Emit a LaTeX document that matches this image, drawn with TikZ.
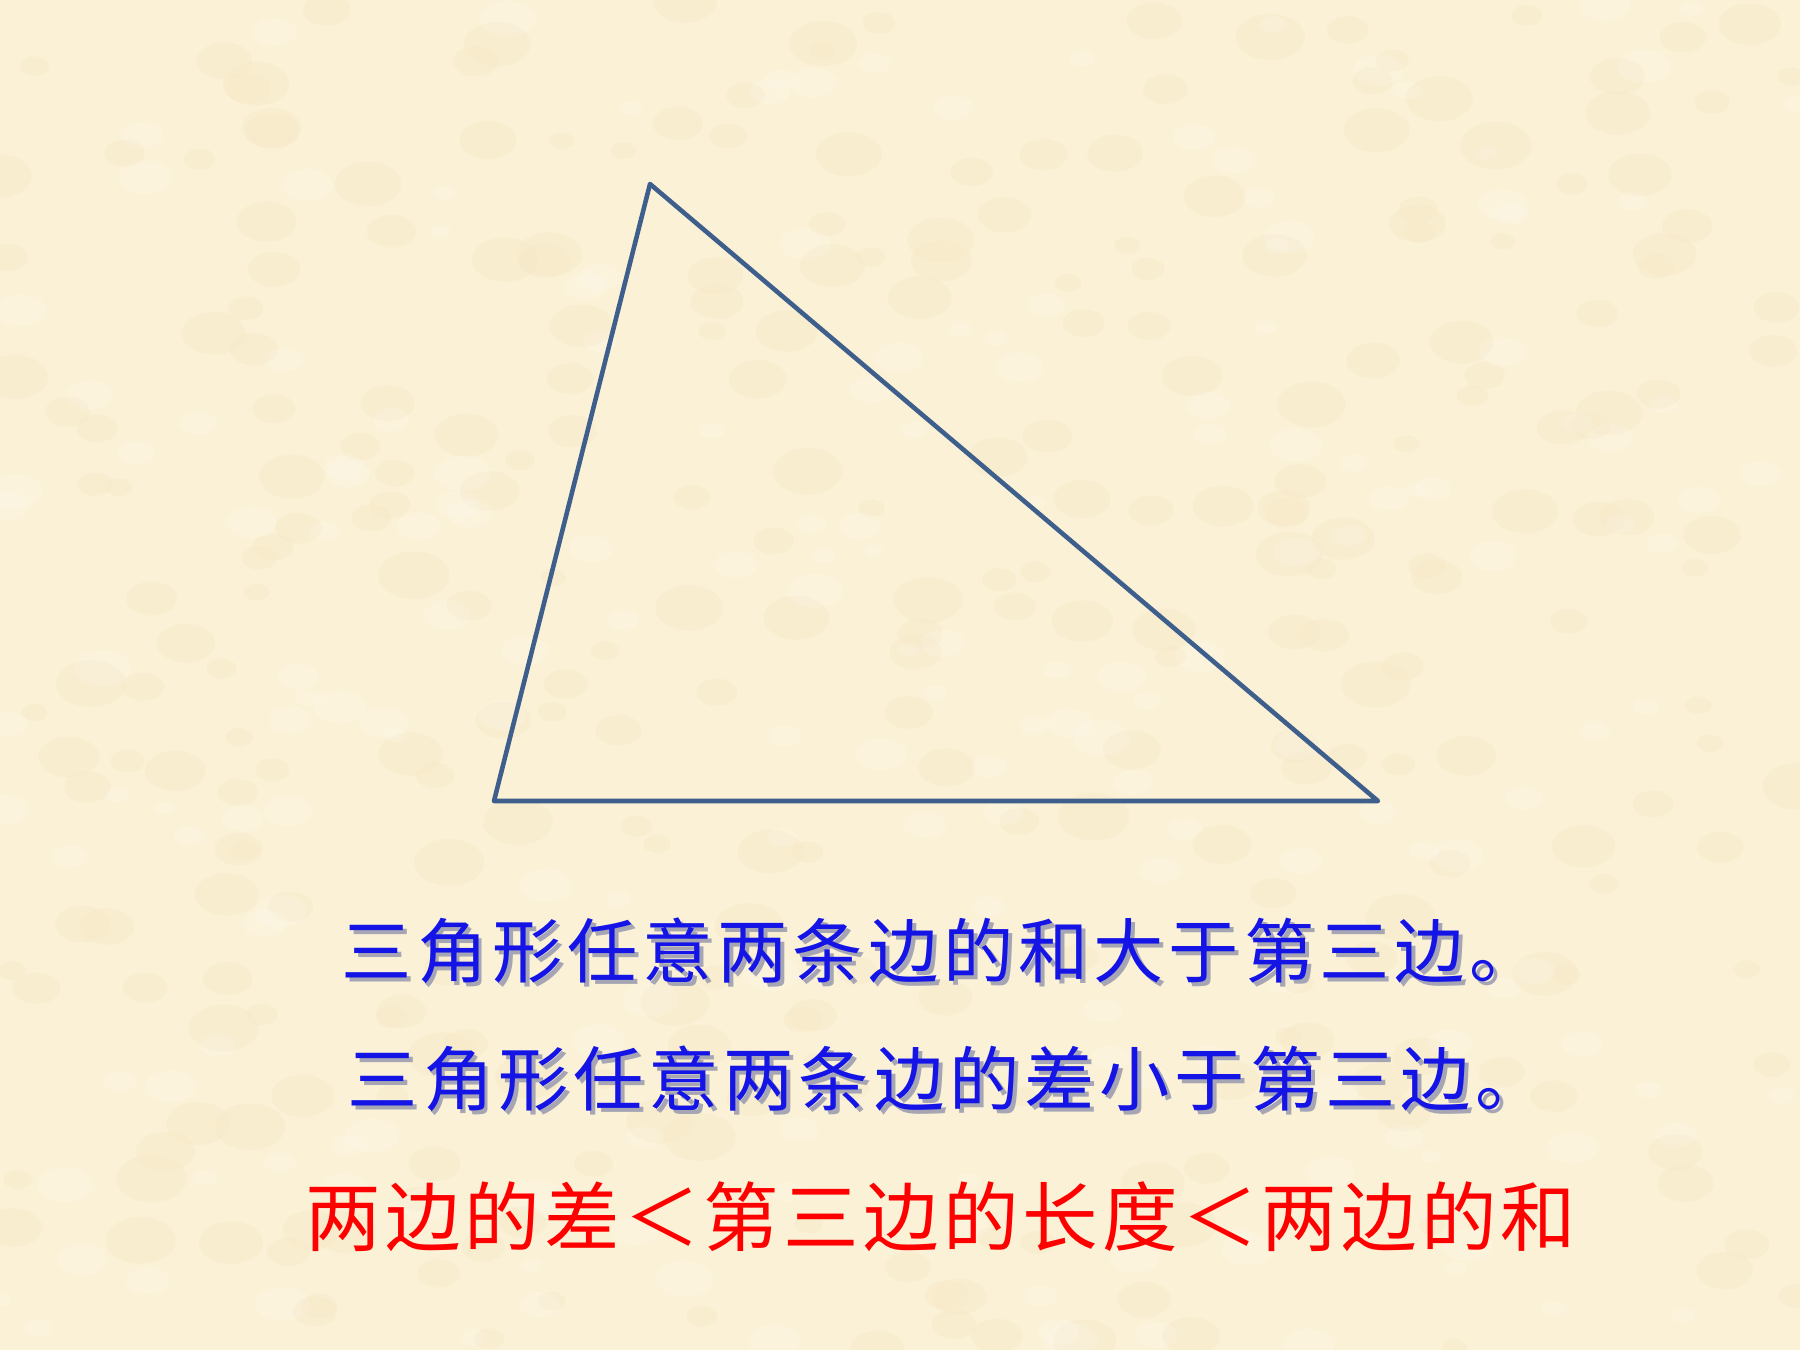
\documentclass[tikz,border=0pt]{standalone}
\usepackage{fontspec}
\newfontfamily\cjkblue[LetterSpace=7]{Noto Sans CJK SC}
\newfontfamily\cjkred[LetterSpace=5.5]{Noto Sans CJK SC}
\definecolor{bgcream}{RGB}{251,241,214}
\definecolor{bgspot}{RGB}{245,231,196}
\definecolor{triline}{RGB}{62,95,140}
\definecolor{txtblue}{RGB}{20,20,230}
\definecolor{txtred}{RGB}{255,0,0}
\definecolor{shadowgray}{RGB}{165,165,180}
\newcommand{\shadowed}[1]{\rlap{\hspace{2.2pt}\raisebox{-2.2pt}{\color{shadowgray}#1}}#1}
\tikzset{
  bluetext/.style={font=\cjkblue\fontsize{40pt}{48pt}\selectfont, text=txtblue, inner sep=0pt},
  redtext/.style={font=\cjkred\fontsize{43pt}{50pt}\selectfont, text=txtred, inner sep=0pt},
  edge/.style={draw=triline, line width=2.6pt, line join=round, line cap=round}
}
\begin{document}
\begin{tikzpicture}[x=0.02cm, y=-0.02cm]
\useasboundingbox (0,0) rectangle (1800,1350);
\fill[bgcream] (0,0) rectangle (1800,1350);
% subtle mottled background texture
\pgfmathsetseed{7}
\foreach \i in {1,...,300} {
  \pgfmathsetmacro{\px}{rnd*1800}
  \pgfmathsetmacro{\py}{rnd*1350}
  \pgfmathsetmacro{\rr}{8+rnd*16}
  \fill[bgspot, opacity=0.3] (\px,\py) ellipse [x radius=\rr*1.5, y radius=\rr];
}
\foreach \i in {1,...,200} {
  \pgfmathsetmacro{\px}{rnd*1800}
  \pgfmathsetmacro{\py}{rnd*1350}
  \pgfmathsetmacro{\rr}{6+rnd*12}
  \fill[white, opacity=0.15] (\px,\py) ellipse [x radius=\rr*1.6, y radius=\rr];
}
% triangle
\coordinate (A) at (650,184);
\coordinate (B) at (494,801);
\coordinate (C) at (1378,801);
\draw[edge] (A) -- (B) -- (C) -- cycle;
% texts
\node[bluetext] (t1) at (941,953) {\shadowed{三角形任意两条边的和大于第三边。}};
\node[bluetext] (t2) at (947,1081) {\shadowed{三角形任意两条边的差小于第三边。}};
\node[redtext] (t3) at (941,1217) {两边的差＜第三边的长度＜两边的和};
\end{tikzpicture}
\end{document}
